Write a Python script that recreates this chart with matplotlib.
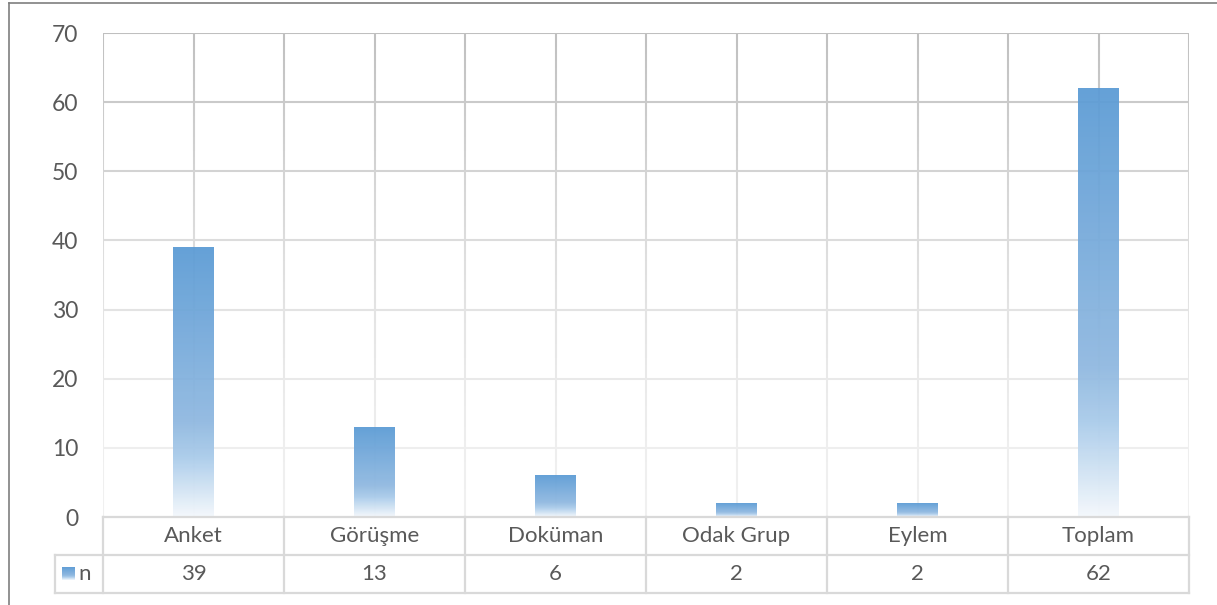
# -*- coding: utf-8 -*-
# Excel-style bar chart with a data table underneath
import numpy as np
import matplotlib
matplotlib.use("Agg")
import matplotlib.pyplot as plt
from matplotlib.collections import LineCollection
from matplotlib.colors import LinearSegmentedColormap, to_rgb

# data
categories = ['Anket', 'Görüşme', 'Doküman', 'Odak Grup', 'Eylem', 'Toplam']
values = [39, 13, 6, 2, 2, 62]
series_name = 'n'
y_ticks = [0, 10, 20, 30, 40, 50, 60, 70]

plt.rcParams['font.family'] = ['Lato', 'DejaVu Sans']
text_col = '#595959'
table_col = '#d9d9d9'

W, H = 1217, 605
fig = plt.figure(figsize=(W / 100, H / 100), dpi=100)
ax = fig.add_axes([103 / W, 1 - 517 / H, (1189 - 103) / W, (517 - 33) / H])

# outer chart border (only left and top visible in the crop)
fig.add_artist(plt.Line2D([9 / W, 9 / W], [0, 1 - 3 / H], color='#7f7f7f', lw=1.2))
fig.add_artist(plt.Line2D([9 / W, 1], [1 - 3 / H, 1 - 3 / H], color='#7f7f7f', lw=1.2))

n = len(categories)
ymax = y_ticks[-1]


def grid_color(v):
    # gridlines get lighter towards the bottom
    t = (v / ymax) ** 1.6
    c0 = np.array(to_rgb('#f0f0f0'))
    c1 = np.array(to_rgb('#bfbfbf'))
    return tuple(c0 + (c1 - c0) * t)


# horizontal gridlines
for v in y_ticks[1:]:
    ax.plot([-0.5, n - 0.5], [v, v], color=grid_color(v), lw=1.5, zorder=1)

# vertical gridlines at category centres and boundaries
xs = list(np.arange(-0.5, n, 0.5))
segs, cols = [], []
steps = np.linspace(0, ymax, 71)
for x in xs:
    for a, b in zip(steps[:-1], steps[1:]):
        segs.append([(x, a), (x, b)])
        cols.append(grid_color((a + b) / 2))
ax.add_collection(LineCollection(segs, colors=cols, linewidths=1.5, zorder=1))

# gradient bars
cmap = LinearSegmentedColormap.from_list('bar', [
    (0.0, '#f4f8fc'),
    (0.22, '#a9cbea'),
    (0.35, '#8fb8e0'),
    (1.0, '#5b9bd5')])
grad = np.linspace(0, 1, 256).reshape(-1, 1)
bw = 0.226
for i, v in enumerate(values):
    ax.imshow(grad, cmap=cmap, origin='lower', aspect='auto',
              extent=[i - bw / 2, i + bw / 2, 0, v], zorder=2, alpha=0.94,
              interpolation='bilinear')

ax.set_xlim(-0.5, n - 0.5)
ax.set_ylim(0, ymax)
ax.set_yticks(y_ticks)
ax.set_xticks([])
ax.tick_params(axis='y', length=0, pad=18, labelsize=16.5, labelcolor=text_col)
for s in ax.spines.values():
    s.set_visible(False)

# data table under the axis
tr = ax.get_xaxis_transform()
row_h = 38 / 484
r1 = -row_h
r2 = -2 * row_h
left_cell = -0.5 - 48 / 181
kw = dict(transform=tr, color=table_col, lw=1.6, clip_on=False, zorder=3)
ax.plot([-0.5, n - 0.5], [0, 0], **kw)
ax.plot([left_cell, n - 0.5], [r1, r1], **kw)
ax.plot([left_cell, n - 0.5], [r2, r2], **kw)
ax.plot([left_cell, left_cell], [r1, r2], **kw)
for x in np.arange(-0.5, n, 1.0):
    ax.plot([x, x], [0, r2], **kw)

for i, c in enumerate(categories):
    ax.text(i, r1 / 2, c, transform=tr, ha='center', va='center',
            fontsize=16, color=text_col)
    ax.text(i, (r1 + r2) / 2, str(values[i]), transform=tr, ha='center',
            va='center', fontsize=16, color=text_col)

# legend key in the table
key = fig.add_axes([62 / W, 1 - 580 / H, 13 / W, 13 / H])
key.imshow(grad, cmap=cmap, origin='lower', aspect='auto')
key.axis('off')
ax.text(left_cell + 0.165, (r1 + r2) / 2, series_name, transform=tr,
        ha='center', va='center', fontsize=16, color=text_col)

fig.savefig('out.png', dpi=100)
